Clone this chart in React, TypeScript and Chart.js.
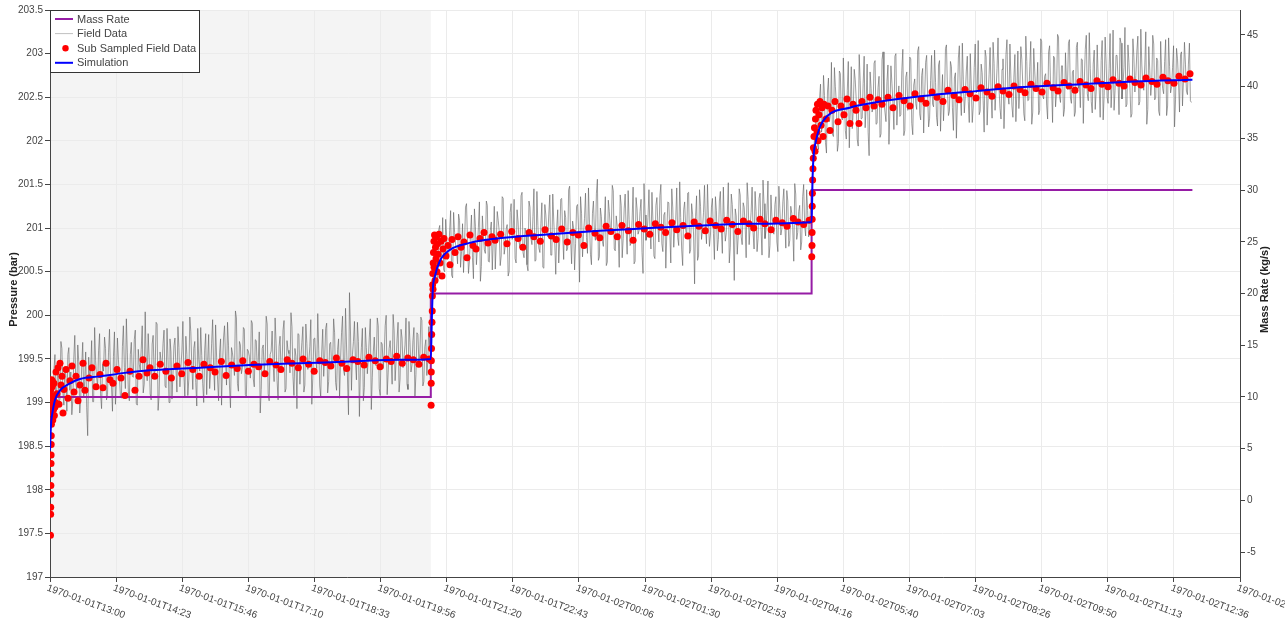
import React, { useEffect, useRef } from "react";
import { Chart, registerables } from "chart.js";

Chart.register(...registerables);

const FONT = '"Liberation Sans", Arial, sans-serif';

// x axis: minutes after 1970-01-01T13:00
const xMinMinutes = 0;
const xMaxMinutes = 1500;
const xTickStepMinutes = 250 / 3;
const xTickLabels = [
  "1970-01-01T13:00", "1970-01-01T14:23", "1970-01-01T15:46", "1970-01-01T17:10",
  "1970-01-01T18:33", "1970-01-01T19:56", "1970-01-01T21:20", "1970-01-01T22:43",
  "1970-01-02T00:06", "1970-01-02T01:30", "1970-01-02T02:53", "1970-01-02T04:16",
  "1970-01-02T05:40", "1970-01-02T07:03", "1970-01-02T08:26", "1970-01-02T09:50",
  "1970-01-02T11:13", "1970-01-02T12:36", "1970-01-02T14:00",
];
const historyEndMinute = 480;

// Mass rate (kg/s)
const massRateTimes = [0, 480, 480, 960, 960, 1440];
const massRateValues = [10, 10, 20, 20, 30, 30];

// Field data (bar): "A" samples at segment start + i*2.5 min, "B" samples 1.25 min later
const segmentStartMinutes = [0, 480, 960];
const fieldStepMinutes = 2.5;
const fieldSeg1A = [
  198.92, 199.12, 199.38, 198.95, 199.46, 199.04, 199.62, 198.97, 199.31, 199.55, 199.14, 198.86, 199.51, 199.22, 199.66, 198.88,
  199.42, 199.06, 199.58, 198.62, 199.27, 199.71, 199.01, 199.48, 199.18, 199.79, 198.93, 199.36, 199.62, 199.09, 199.84, 199.20,
  199.53, 198.98, 199.74, 199.31, 199.05, 199.88, 199.16, 199.57, 199.02, 199.69, 199.29, 199.83, 198.97, 199.44, 199.61, 199.11,
  200.04, 199.25, 199.52, 199.03, 199.77, 199.36, 199.90, 199.08, 199.47, 199.68, 199.19, 199.85, 199.00, 199.58, 199.33, 199.74,
  199.12, 199.63, 199.41, 199.93, 199.06, 199.55, 199.27, 199.81, 199.15, 199.70, 198.96, 199.49, 199.86, 199.22, 199.60, 199.09,
  199.78, 199.35, 199.95, 199.14, 199.52, 199.02, 199.73, 199.44, 199.88, 199.20, 199.65, 198.94, 199.57, 199.31, 199.97, 199.13,
  199.66, 199.40, 199.84, 199.07, 199.59, 199.28, 199.91, 199.18, 199.71, 199.46, 198.88, 199.62, 199.36, 199.99, 199.10, 199.55,
  199.82, 199.24, 199.68, 199.03, 199.76, 199.43, 199.94, 199.16, 199.60, 199.34, 199.87, 199.08, 199.53, 199.79, 199.21, 199.69,
  199.12, 199.90, 199.38, 199.64, 198.98, 199.73, 199.47, 200.02, 199.19, 199.58, 199.30, 199.85, 199.11, 199.67, 199.42, 199.96,
  199.23, 199.61, 199.05, 199.80, 199.37, 200.08, 199.27, 200.26, 199.14, 199.70, 199.48, 199.92, 198.84, 199.63, 199.02, 199.86,
  199.33, 199.75, 198.92, 199.58, 199.44, 199.97, 199.16, 199.69, 199.39, 199.88, 199.09, 199.62, 199.51, 200.01, 199.25, 199.73,
  199.12, 199.84, 199.40, 199.66, 199.21, 199.93, 199.35, 199.71, 199.06, 199.80, 199.45, 199.98, 199.19, 199.64, 199.31, 199.87,
];
const fieldSeg1B = [
  199.28, 198.84, 199.55, 199.20, 198.99, 199.70, 199.12, 199.41, 198.90, 199.63, 199.35, 199.02, 199.77, 199.15, 199.47, 199.06,
  199.69, 199.24, 198.94, 199.52, 199.38, 199.01, 199.86, 199.29, 199.60, 199.10, 199.44, 199.75, 199.03, 199.57, 199.33, 198.90,
  199.81, 199.26, 199.49, 199.07, 199.64, 199.40, 199.96, 199.13, 199.55, 199.30, 199.72, 198.99, 199.61, 199.37, 199.88, 199.21,
  199.46, 199.79, 199.10, 199.67, 199.34, 199.92, 198.91, 199.58, 199.42, 199.83, 199.17, 199.50, 199.73, 199.04, 199.65, 199.39,
  199.87, 199.18, 199.59, 199.32, 199.76, 199.08, 199.98, 199.43, 199.62, 199.23, 199.85, 199.36, 199.54, 199.00, 199.79, 199.48,
  199.16, 199.68, 199.41, 199.89, 199.26, 199.57, 198.97, 199.74, 199.50, 199.92, 199.19, 199.63, 199.45, 200.05, 199.22, 199.70,
  199.33, 199.86, 199.09, 199.61, 199.53, 199.94, 199.27, 199.72, 199.38, 199.81, 199.15, 199.66, 199.48, 199.90, 199.02, 199.59,
  199.44, 199.97, 199.25, 199.64, 199.35, 199.83, 199.12, 199.71, 199.56, 200.03, 199.30, 199.62, 198.93, 199.78, 199.51, 199.87,
  199.20, 199.68, 199.46, 199.95, 199.28, 199.74, 199.39, 199.60, 199.06, 199.84, 199.52, 199.91, 199.24, 199.69, 199.43, 199.80,
  199.14, 199.73, 199.49, 199.99, 199.31, 199.66, 198.86, 199.82, 199.55, 199.93, 199.26, 199.70, 199.40, 199.85, 199.17, 199.63,
  199.50, 199.96, 199.29, 199.75, 199.42, 199.88, 199.08, 199.67, 199.54, 200.00, 199.34, 199.71, 199.21, 199.83, 199.47, 199.92,
  199.27, 199.74, 199.52, 199.97, 199.15, 199.69, 199.43, 199.86, 199.32, 199.78, 199.56, 199.94, 199.24, 199.72, 199.48, 199.62,
];
const fieldSeg2A = [
  199.85, 200.38, 200.72, 200.46, 200.98, 200.61, 201.12, 200.50, 200.89, 200.68, 201.20, 200.43, 200.95, 200.74, 201.16, 200.55,
  201.05, 200.80, 201.28, 200.48, 200.92, 200.66, 201.22, 200.58, 201.01, 200.39, 201.14, 200.75, 201.31, 200.62, 200.97, 200.52,
  201.25, 200.83, 201.09, 200.57, 201.36, 200.70, 200.99, 200.45, 201.18, 200.87, 201.33, 200.60, 201.07, 200.78, 201.41, 200.66,
  200.94, 200.51, 201.24, 200.81, 201.45, 200.63, 201.03, 200.72, 201.29, 200.54, 201.15, 200.90, 201.38, 200.69, 201.08, 200.47,
  201.21, 200.85, 201.34, 200.64, 201.12, 200.77, 201.48, 200.59, 201.00, 200.82, 201.27, 200.38, 201.17, 200.93, 201.40, 200.71,
  201.06, 200.58, 201.31, 200.86, 201.56, 200.67, 201.13, 200.79, 201.36, 200.61, 201.19, 200.96, 201.43, 200.74, 201.02, 200.55,
  201.26, 200.88, 201.39, 200.70, 201.10, 200.83, 201.47, 200.62, 201.22, 200.97, 201.33, 200.48, 201.15, 200.91, 201.44, 200.76,
  201.09, 200.65, 201.35, 200.84, 201.50, 200.73, 201.18, 200.94, 201.29, 200.60, 201.23, 201.00, 201.46, 200.80, 201.12, 200.57,
  201.30, 200.89, 201.41, 200.75, 201.16, 200.36, 201.37, 200.68, 201.25, 200.99, 201.49, 200.82, 201.11, 200.92, 201.34, 200.64,
  201.20, 200.87, 201.42, 200.71, 201.06, 200.95, 201.52, 200.78, 201.27, 200.40, 201.14, 200.90, 201.38, 200.81, 201.24, 200.66,
  201.33, 201.01, 201.47, 200.76, 201.19, 200.88, 201.40, 200.69, 201.28, 200.97, 201.54, 200.80, 201.13, 200.93, 201.36, 200.73,
  201.22, 200.99, 201.45, 200.77, 201.31, 200.86, 201.17, 200.62, 201.39, 200.95, 201.26, 200.84, 201.50, 200.91, 201.20, 200.98,
];
const fieldSeg2B = [
  200.15, 200.58, 200.91, 200.40, 201.03, 200.70, 200.52, 201.10, 200.64, 200.97, 200.46, 201.18, 200.81, 200.59, 201.09, 200.73,
  200.49, 201.24, 200.86, 200.63, 201.15, 200.42, 201.02, 200.78, 201.30, 200.56, 200.93, 200.71, 201.26, 200.61, 201.07, 200.85,
  200.53, 201.19, 200.96, 200.68, 201.34, 200.79, 201.04, 200.50, 201.28, 200.90, 200.65, 201.21, 200.84, 201.37, 200.72, 201.00,
  200.58, 201.31, 200.88, 201.13, 200.62, 201.42, 200.77, 201.05, 200.55, 201.27, 200.94, 201.16, 200.69, 201.39, 200.83, 201.01,
  200.60, 201.33, 200.92, 201.20, 200.74, 201.44, 200.87, 201.08, 200.52, 201.25, 200.98, 201.36, 200.67, 201.11, 200.89, 201.46,
  200.70, 201.17, 200.95, 201.40, 200.63, 201.23, 200.85, 201.06, 200.57, 201.32, 201.00, 201.49, 200.76, 201.14, 200.91, 201.38,
  200.66, 201.22, 200.99, 201.43, 200.80, 201.09, 200.59, 201.35, 200.93, 201.19, 200.72, 201.51, 200.86, 201.12, 200.97, 201.41,
  200.68, 201.26, 201.02, 201.37, 200.82, 201.15, 200.54, 201.30, 200.96, 201.45, 200.78, 201.10, 200.89, 201.53, 200.75, 201.21,
  200.99, 201.40, 200.71, 201.28, 200.92, 201.13, 200.63, 201.44, 200.87, 201.18, 201.01, 201.50, 200.79, 201.24, 200.94, 201.36,
  200.74, 201.31, 200.97, 201.47, 200.85, 201.16, 200.60, 201.39, 200.98, 201.22, 200.70, 201.45, 200.90, 201.29, 201.03, 201.52,
  200.81, 201.18, 200.95, 201.42, 200.73, 201.34, 201.00, 201.55, 200.88, 201.20, 200.66, 201.38, 200.96, 201.27, 200.84, 201.48,
  200.92, 201.30, 201.04, 201.43, 200.79, 201.25, 200.99, 201.51, 200.87, 201.19, 200.75, 201.36, 201.02, 201.44, 200.90, 201.28,
];
const fieldSeg3A = [
  201.30, 201.85, 202.20, 201.95, 202.48, 202.10, 202.75, 201.98, 202.56, 202.22, 202.90, 202.05, 202.62, 201.88, 202.80, 202.28,
  202.95, 202.12, 202.58, 201.92, 202.85, 202.35, 202.70, 202.02, 202.99, 202.25, 202.66, 202.15, 202.88, 201.83, 202.60, 202.38,
  202.92, 202.20, 202.74, 202.08, 203.02, 202.33, 202.68, 201.96, 202.86, 202.44, 202.97, 202.18, 202.63, 202.30, 203.05, 202.12,
  202.79, 202.41, 202.94, 202.07, 202.71, 202.36, 203.08, 202.24, 202.83, 202.50, 202.98, 202.16, 202.69, 202.42, 203.04, 202.27,
  202.87, 202.11, 202.76, 202.47, 203.10, 202.29, 202.91, 202.38, 202.72, 202.03, 202.95, 202.52, 203.12, 202.32, 202.80, 202.45,
  203.00, 202.21, 202.84, 202.55, 203.15, 202.34, 202.78, 202.10, 202.96, 202.49, 203.07, 202.26, 202.89, 202.58, 203.18, 202.37,
  202.82, 202.14, 202.99, 202.53, 203.11, 202.40, 202.73, 202.22, 203.03, 202.60, 202.93, 202.31, 203.20, 202.46, 202.85, 202.19,
  203.06, 202.57, 202.90, 202.35, 203.14, 202.48, 202.77, 202.25, 203.09, 202.62, 202.97, 202.39, 203.22, 202.51, 202.86, 202.28,
  203.01, 202.59, 203.16, 202.43, 202.81, 202.33, 203.13, 202.66, 202.94, 202.20, 203.05, 202.54, 203.24, 202.45, 202.88, 202.36,
  203.10, 202.61, 202.92, 202.24, 203.19, 202.50, 202.83, 202.38, 203.27, 202.58, 202.98, 202.30, 203.12, 202.65, 203.30, 202.42,
  202.90, 202.27, 203.17, 202.56, 203.03, 202.41, 203.28, 202.63, 202.87, 202.19, 203.08, 202.52, 203.21, 202.47, 202.95, 202.34,
  203.14, 202.60, 202.91, 202.29, 203.18, 202.55, 202.84, 202.16, 203.06, 202.68, 202.99, 202.40, 203.13, 202.57, 202.88, 202.46,
];
const fieldSeg3B = [
  201.60, 202.05, 202.38, 201.90, 202.65, 202.18, 202.52, 201.86, 202.72, 202.30, 202.08, 202.84, 202.41, 201.97, 202.77, 202.24,
  202.55, 202.02, 202.91, 202.36, 202.14, 202.82, 202.47, 201.94, 202.69, 202.26, 202.97, 202.40, 202.10, 202.79, 202.33, 202.89,
  202.19, 202.61, 202.04, 202.93, 202.45, 202.22, 202.87, 202.37, 202.66, 202.13, 203.00, 202.49, 202.28, 202.81, 202.06, 202.73,
  202.35, 202.96, 202.20, 202.64, 202.43, 203.03, 202.31, 202.75, 202.09, 202.90, 202.53, 202.26, 202.98, 202.39, 202.67, 202.17,
  202.92, 202.48, 202.23, 203.06, 202.58, 202.34, 202.85, 202.12, 202.78, 202.44, 203.09, 202.29, 202.70, 202.51, 202.97, 202.21,
  202.63, 202.40, 203.11, 202.57, 202.30, 202.88, 202.46, 203.04, 202.18, 202.76, 202.54, 203.13, 202.35, 202.83, 202.60, 202.25,
  202.94, 202.50, 203.16, 202.42, 202.71, 202.27, 202.99, 202.56, 202.37, 203.08, 202.64, 202.23, 202.91, 202.47, 203.14, 202.33,
  202.80, 202.59, 202.30, 203.17, 202.52, 202.74, 202.41, 203.02, 202.62, 202.21, 202.95, 202.55, 203.19, 202.44, 202.86, 202.36,
  202.66, 203.12, 202.49, 202.79, 202.28, 203.07, 202.60, 202.38, 202.93, 202.69, 203.21, 202.46, 202.83, 202.32, 203.04, 202.57,
  202.73, 202.27, 203.15, 202.52, 202.89, 202.43, 203.23, 202.64, 202.35, 202.98, 202.70, 203.18, 202.48, 202.84, 202.39, 203.10,
  202.61, 202.31, 202.96, 202.75, 203.20, 202.45, 202.87, 202.58, 203.25, 202.36, 202.81, 202.66, 203.11, 202.50, 202.92, 202.29,
  202.78, 202.54, 203.16, 202.40, 202.85, 202.62, 203.09, 202.47, 202.94, 202.33, 203.02, 202.71, 202.88, 202.53, 203.12, 202.44,
];

// Sub sampled field data (minutes, bar)
const subTimes = [
  0.5, 0.6, 0.8, 0.9, 1.0, 1.0, 1.1, 1.2, 1.3, 1.4, 1.5, 1.6, 1.8, 2.0, 2.0, 2.2, 2.4, 2.6, 2.8, 3.0,
  3.5, 3.8, 4.5, 5.0, 5.5, 6.3, 7.0, 7.6, 8.8, 10.1, 11.3, 12.6, 13.9, 15.1, 16.4, 17.6, 20.2, 22.7, 25.2, 27.7,
  30.3, 32.8, 35.3, 37.8, 41.6, 44.1, 49.2, 52.9, 58.0, 63.0, 66.8, 70.6, 75.6, 79.4, 84.5, 89.5, 94.5, 100.8, 107.1, 112.2,
  117.2, 122.3, 126, 132, 139, 146, 153, 160, 166, 174, 180, 188, 194, 202, 208, 216, 222, 229, 236, 243,
  250, 257, 263, 271, 277, 285, 291, 299, 305, 313, 319, 326, 333, 340, 347, 354, 361, 368, 374, 382,
  388, 396, 402, 410, 416, 424, 430, 437, 444, 451, 458, 465, 471, 478,
  480.4, 480.5, 480.6, 480.7, 480.9, 481.1, 481.5, 481.8, 482.0, 482.3, 482.5, 482.8, 483.0, 483.4, 484.0, 484.1,
  484.7, 485.3, 485.9, 486.6, 487.2, 487.8, 488.4, 489.1, 490.3, 491.6, 492.9, 494.1, 495.4, 496.6, 499.2, 501.7,
  504.2, 506.7, 510.5, 514.3, 518.1, 521.8, 525.6, 529.4, 533.2, 537.0, 542.0, 547.1, 552.1, 557.1,
  561, 568, 576, 582, 590, 596, 604, 610, 618, 624, 632, 638, 645, 652, 659, 666, 673, 679, 687, 693,
  701, 707, 715, 721, 729, 735, 742, 749, 756, 763, 770, 776, 784, 790, 798, 804, 812, 818, 826, 832,
  839, 846, 853, 860, 867, 874, 881, 887, 895, 901, 909, 915, 923, 929, 937, 943, 950, 957,
  960.2, 960.5, 960.6, 960.7, 960.8, 961.0, 961.3, 961.7, 962.1, 962.3, 963.0, 963.6, 964.3, 964.9, 965.5, 966.8,
  967.4, 968.1, 969.3, 970.6, 971.9, 973.1, 974.4, 975.6, 978.2, 980.7, 983.2, 985.7, 989.5, 993.3, 997.0, 1000.8,
  1004.6, 1008.4, 1012.2, 1016.0, 1019.7, 1023.5, 1028.6, 1033.6, 1038.7, 1043.7,
  1048.7, 1056.3, 1062.6, 1070.2, 1076.5, 1084.0, 1090.3, 1097.9, 1104.2, 1111.8, 1118.1, 1125.6, 1131.9, 1139.5,
  1145.8, 1153.4, 1159.7, 1167.2, 1173.5, 1181.1, 1187.4, 1195.0, 1201.3, 1208.8, 1215.1, 1222.7, 1229.0, 1236.6,
  1242.9, 1250.4, 1256.7, 1264.3, 1270.6, 1278.2, 1284.5, 1292.0, 1298.3, 1305.9, 1312.2, 1319.7, 1326.0, 1333.6,
  1339.9, 1347.5, 1353.8, 1361.3, 1367.6, 1375.2, 1381.5, 1389.0, 1395.3, 1402.9, 1409.2, 1416.8, 1423.1, 1430.7, 1437.0,
];
const subPressures = [
  199.22, 197.48, 197.72, 197.80, 197.95, 199.15, 198.05, 198.18, 198.30, 198.40, 198.52, 198.62, 198.75, 198.88, 199.26, 198.98, 199.08, 199.18, 199.25, 199.20,
  198.80, 199.05, 198.92, 199.22, 198.85, 198.95, 199.00, 199.35, 199.10, 199.40, 198.98, 199.45, 199.20, 199.30, 198.88, 199.15, 199.38, 199.05, 199.25, 199.42,
  199.12, 199.30, 199.02, 199.20, 199.45, 199.14, 199.28, 199.40, 199.18, 199.32, 199.17, 199.45, 199.26, 199.22, 199.38, 199.28, 199.08, 199.36, 199.14, 199.30,
  199.49, 199.34, 199.40, 199.30, 199.44, 199.36, 199.28, 199.42, 199.33, 199.46, 199.38, 199.30, 199.44, 199.40, 199.35, 199.47, 199.31, 199.43, 199.39, 199.48,
  199.36, 199.44, 199.41, 199.33, 199.47, 199.43, 199.38, 199.49, 199.45, 199.40, 199.50, 199.44, 199.36, 199.48, 199.46, 199.42, 199.51, 199.45, 199.39, 199.49,
  199.47, 199.43, 199.52, 199.48, 199.41, 199.50, 199.47, 199.53, 199.45, 199.51, 199.49, 199.44, 199.52, 199.50,
  198.97, 199.22, 199.35, 199.48, 199.62, 199.78, 199.92, 200.05, 200.22, 200.35, 200.48, 200.30, 200.60, 200.72, 200.85, 200.55,
  200.92, 200.40, 200.78, 200.65, 200.90, 200.50, 200.82, 200.70, 200.93, 200.60, 200.85, 200.45, 200.76, 200.88, 200.68, 200.80,
  200.58, 200.87, 200.72, 200.90, 200.78, 200.84, 200.66, 200.92, 200.80, 200.76, 200.88, 200.95, 200.83, 200.90,
  200.86, 200.93, 200.82, 200.96, 200.88, 200.78, 200.95, 200.90, 200.85, 200.98, 200.91, 200.87, 200.99, 200.84, 200.95, 200.92, 200.80, 201.00, 200.94, 200.89,
  201.02, 200.96, 200.90, 201.03, 200.97, 200.86, 201.04, 200.99, 200.93, 201.05, 201.01, 200.95, 201.06, 200.98, 201.03, 200.91, 201.07, 201.02, 200.97, 201.08,
  201.03, 200.99, 201.09, 201.04, 200.96, 201.08, 201.05, 201.00, 201.10, 201.05, 200.98, 201.09, 201.06, 201.02, 201.11, 201.07, 201.04, 201.09,
  200.67, 200.80, 200.95, 201.10, 201.25, 201.40, 201.55, 201.68, 201.80, 201.92, 202.05, 202.15, 201.88, 202.25, 202.35, 202.10,
  202.42, 202.00, 202.30, 202.45, 202.18, 202.38, 202.05, 202.42, 202.25, 202.40, 202.12, 202.35, 202.45, 202.22, 202.40, 202.30,
  202.48, 202.20, 202.42, 202.35, 202.20, 202.45, 202.38, 202.50, 202.40, 202.47,
  202.42, 202.50, 202.38, 202.52, 202.46, 202.40, 202.54, 202.48, 202.43, 202.56, 202.50, 202.45, 202.58, 202.52,
  202.47, 202.59, 202.54, 202.49, 202.61, 202.56, 202.51, 202.62, 202.57, 202.53, 202.63, 202.59, 202.55, 202.65,
  202.60, 202.56, 202.66, 202.61, 202.57, 202.67, 202.63, 202.58, 202.68, 202.64, 202.60, 202.69, 202.65, 202.62,
  202.70, 202.66, 202.63, 202.71, 202.67, 202.64, 202.72, 202.68, 202.65, 202.73, 202.69, 202.66, 202.74, 202.71, 202.77,
];

// Simulation (minutes, bar)
const simTimes = [
  0, 1.27, 2.5, 6.3, 12.7, 25.2, 37.8, 63, 94.5, 126, 189, 252, 315, 378, 441, 480,
  481.3, 482.5, 485, 491.3, 504, 529, 563, 630, 693, 756, 820, 883, 960,
  961.3, 962.7, 965, 970, 979, 1008, 1047, 1097, 1167, 1233, 1300, 1367, 1440,
];
const simPressures = [
  198.45, 198.75, 198.85, 199.03, 199.14, 199.22, 199.27, 199.30, 199.34, 199.37, 199.40, 199.43, 199.45, 199.47, 199.49, 199.50,
  199.95, 200.29, 200.44, 200.62, 200.75, 200.83, 200.88, 200.93, 200.97, 201.00, 201.03, 201.05, 201.07,
  201.60, 201.85, 201.98, 202.15, 202.28, 202.38, 202.45, 202.51, 202.57, 202.62, 202.65, 202.68, 202.70,
];

const MASS_COLOR = "rgb(150, 28, 165)";
const FIELD_COLOR = "rgba(95, 95, 95, 0.6)";
const SUB_COLOR = "#ff0000";
const SIM_COLOR = "#0000ff";
const TEXT_COLOR = "#444";

const decorPlugin = {
  id: "decor",
  beforeDraw(chart: any) {
    const { ctx, chartArea, scales } = chart;
    const x0 = scales.x.getPixelForValue(xMinMinutes);
    const x1 = scales.x.getPixelForValue(historyEndMinute);
    ctx.save();
    ctx.fillStyle = "#f4f4f4";
    ctx.fillRect(x0, chartArea.top, x1 - x0, chartArea.bottom - chartArea.top);
    ctx.restore();
  },
  afterDraw(chart: any) {
    const { ctx, chartArea, scales } = chart;
    const xs = scales.x;
    ctx.save();
    // rotated x tick labels
    ctx.font = `10px ${FONT}`;
    ctx.fillStyle = TEXT_COLOR;
    ctx.textAlign = "left";
    ctx.textBaseline = "top";
    xs.ticks.forEach((t: any, i: number) => {
      const px = xs.getPixelForValue(t.value);
      ctx.save();
      ctx.translate(px - 1, chartArea.bottom + 6);
      ctx.rotate((20 * Math.PI) / 180);
      ctx.fillText(xTickLabels[i] ?? "", 0, 0);
      ctx.restore();
    });
    // axis titles
    const midY = (chartArea.top + chartArea.bottom) / 2;
    ctx.font = `bold 11px ${FONT}`;
    ctx.fillStyle = "#222";
    ctx.textAlign = "center";
    ctx.textBaseline = "middle";
    ctx.save();
    ctx.translate(14, midY - 4);
    ctx.rotate(-Math.PI / 2);
    ctx.fillText("Pressure (bar)", 0, 0);
    ctx.restore();
    ctx.save();
    ctx.translate(1265, midY - 4);
    ctx.rotate(-Math.PI / 2);
    ctx.fillText("Mass Rate (kg/s)", 0, 0);
    ctx.restore();
    // legend
    const lx = chartArea.left + 0.5;
    const ly = chartArea.top + 0.5;
    ctx.fillStyle = "#fff";
    ctx.fillRect(lx, ly, 149, 62);
    ctx.strokeStyle = "#333";
    ctx.lineWidth = 1;
    ctx.strokeRect(lx, ly, 149, 62);
    const items = [
      { label: "Mass Rate", kind: "line", color: MASS_COLOR, width: 2 },
      { label: "Field Data", kind: "line", color: "rgba(150,150,150,0.6)", width: 1 },
      { label: "Sub Sampled Field Data", kind: "dot", color: SUB_COLOR, width: 0 },
      { label: "Simulation", kind: "line", color: SIM_COLOR, width: 2 },
    ];
    ctx.font = `11px ${FONT}`;
    ctx.textAlign = "left";
    ctx.textBaseline = "middle";
    items.forEach((it, i) => {
      const y = chartArea.top + 9 + i * 14.6;
      if (it.kind === "line") {
        ctx.strokeStyle = it.color;
        ctx.lineWidth = it.width;
        ctx.beginPath();
        ctx.moveTo(chartArea.left + 5, y);
        ctx.lineTo(chartArea.left + 23, y);
        ctx.stroke();
      } else {
        ctx.fillStyle = it.color;
        ctx.beginPath();
        ctx.arc(chartArea.left + 15.5, y, 3.2, 0, Math.PI * 2);
        ctx.fill();
      }
      ctx.fillStyle = TEXT_COLOR;
      ctx.fillText(it.label, chartArea.left + 27, y + 0.5);
    });
    ctx.restore();
  },
};

export default function App() {
  const canvasRef = useRef<HTMLCanvasElement | null>(null);

  useEffect(() => {
    const canvas = canvasRef.current;
    if (!canvas) return;

    const segsA = [fieldSeg1A, fieldSeg2A, fieldSeg3A];
    const segsB = [fieldSeg1B, fieldSeg2B, fieldSeg3B];
    const fieldData: { x: number; y: number }[] = [];
    segsA.forEach((segA, s) => {
      const segB = segsB[s];
      segA.forEach((p, i) => {
        const t0 = segmentStartMinutes[s] + i * fieldStepMinutes;
        fieldData.push({ x: t0, y: p });
        if (i < segB.length) fieldData.push({ x: t0 + fieldStepMinutes / 2, y: segB[i] });
      });
    });
    const massData = massRateTimes.map((t, i) => ({ x: t, y: massRateValues[i] }));
    const subData = subTimes.map((t, i) => ({ x: t, y: subPressures[i] }));
    const simData = simTimes.map((t, i) => ({ x: t, y: simPressures[i] }));

    const chart = new Chart(canvas, {
      type: "line",
      data: {
        datasets: [
          {
            label: "Mass Rate",
            data: massData,
            yAxisID: "y2",
            borderColor: MASS_COLOR,
            backgroundColor: MASS_COLOR,
            borderWidth: 2,
            pointRadius: 0,
            tension: 0,
            order: 3,
          },
          {
            label: "Field Data",
            data: fieldData,
            yAxisID: "y",
            borderColor: FIELD_COLOR,
            borderWidth: 1,
            pointRadius: 0,
            tension: 0,
            order: 4,
          },
          {
            label: "Sub Sampled Field Data",
            data: subData,
            yAxisID: "y",
            showLine: false,
            pointRadius: 3.5,
            pointBorderWidth: 0,
            pointBackgroundColor: SUB_COLOR,
            borderColor: SUB_COLOR,
            backgroundColor: SUB_COLOR,
            order: 2,
          },
          {
            label: "Simulation",
            data: simData,
            yAxisID: "y",
            borderColor: SIM_COLOR,
            borderWidth: 2,
            pointRadius: 0,
            cubicInterpolationMode: "monotone",
            order: 1,
          },
        ],
      },
      options: {
        animation: false,
        responsive: false,
        devicePixelRatio: 1,
        events: [],
        layout: { padding: { top: 10, left: 0, right: 0, bottom: 0 } },
        plugins: { legend: { display: false }, tooltip: { enabled: false }, title: { display: false } },
        scales: {
          x: {
            type: "linear",
            position: "bottom",
            min: xMinMinutes,
            max: xMaxMinutes,
            afterFit: (s: any) => { s.height = 41; },
            ticks: { stepSize: xTickStepMinutes, display: false },
            grid: { color: "#ebebeb", tickColor: "#444", tickLength: 5, lineWidth: 1 },
            border: { display: true, color: "#444", width: 1 },
          },
          y: {
            type: "linear",
            position: "left",
            min: 197,
            max: 203.5,
            afterFit: (s: any) => { s.width = 50; },
            ticks: {
              stepSize: 0.5,
              color: TEXT_COLOR,
              font: { family: FONT, size: 10 },
              padding: 2,
              callback: (v: any) => String(Number(Number(v).toFixed(1))),
            },
            grid: { color: "#ebebeb", tickColor: "#444", tickLength: 5 },
            border: { display: true, color: "#444", width: 1 },
          },
          y2: {
            type: "linear",
            position: "right",
            min: -7.4,
            max: 47.4,
            afterFit: (s: any) => { s.width = 45; },
            ticks: {
              stepSize: 5,
              includeBounds: false,
              color: TEXT_COLOR,
              font: { family: FONT, size: 10 },
              padding: 2,
              callback: (v: any) => String(Math.round(Number(v))),
            },
            grid: { drawOnChartArea: false, tickColor: "#444", tickLength: 5 },
            border: { display: true, color: "#444", width: 1 },
          },
        },
      } as any,
      plugins: [decorPlugin],
    });

    return () => chart.destroy();
  }, []);

  return (
    <div style={{ position: "absolute", left: 0, top: 0, width: 1285, height: 618, background: "#fff" }}>
      <canvas ref={canvasRef} width={1285} height={618} style={{ display: "block", width: 1285, height: 618 }} />
    </div>
  );
}
